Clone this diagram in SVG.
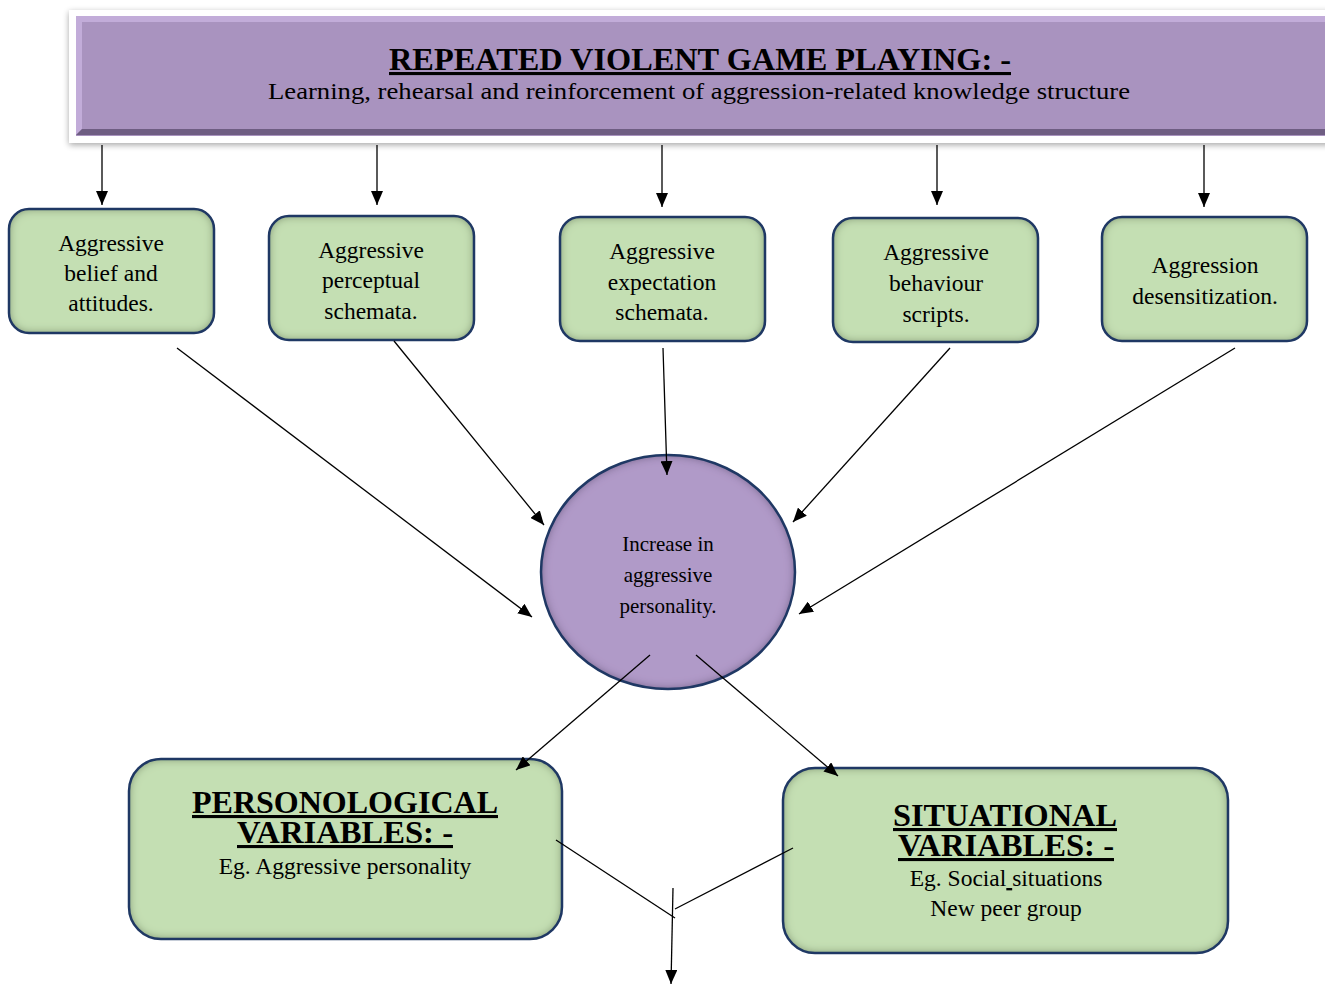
<svg xmlns="http://www.w3.org/2000/svg" width="1325" height="985" viewBox="0 0 1325 985">
<style>
.t{font-family:"Liberation Serif","Times New Roman",serif;fill:#000;text-anchor:middle}
.n{font-size:23.5px}
.c{font-size:21px}
.h{font-size:31px;font-weight:bold;text-decoration:underline}
.gs{fill:#c4dfb3}
.bd{fill:none;stroke:#1f3864;stroke-width:2.5}
.ln{stroke:#000;stroke-width:1.3;fill:none}
</style>
<defs>
<marker id="ah" markerWidth="14" markerHeight="12" refX="14" refY="6" orient="auto" markerUnits="userSpaceOnUse">
<path d="M0,0 L14,6 L0,12 z" fill="#000"/>
</marker>
<filter id="inner" x="-5%" y="-5%" width="110%" height="110%">
<feFlood flood-color="#4e5e3a" flood-opacity="0.9"/>
<feComposite in2="SourceAlpha" operator="out"/>
<feGaussianBlur stdDeviation="5"/>
<feComposite in2="SourceAlpha" operator="in" result="sh"/>
<feMerge><feMergeNode in="SourceGraphic"/><feMergeNode in="sh"/></feMerge>
</filter>
<filter id="innerP" x="-5%" y="-5%" width="110%" height="110%">
<feFlood flood-color="#4a3a5e" flood-opacity="0.9"/>
<feComposite in2="SourceAlpha" operator="out"/>
<feGaussianBlur stdDeviation="5"/>
<feComposite in2="SourceAlpha" operator="in" result="sh"/>
<feMerge><feMergeNode in="SourceGraphic"/><feMergeNode in="sh"/></feMerge>
</filter>
<filter id="drop" x="-5%" y="-20%" width="110%" height="140%">
<feGaussianBlur in="SourceAlpha" stdDeviation="3"/>
<feOffset dx="0" dy="2"/>
<feComponentTransfer><feFuncA type="linear" slope="0.35"/></feComponentTransfer>
<feMerge><feMergeNode/><feMergeNode in="SourceGraphic"/></feMerge>
</filter>
</defs>

<g id="top">
<rect x="69" y="10" width="1270" height="133" fill="#fff" filter="url(#drop)"/>
<rect x="76" y="16" width="1260" height="120" fill="#a993bf"/>
<polygon points="76,16 1336,16 1336,22 82,22 82,129 76,135" fill="#c2acd9"/>
<polygon points="76,135 82,129 1336,129 1336,135" fill="#6e5d82"/>
<text class="t h" x="700" y="70" textLength="622" lengthAdjust="spacingAndGlyphs">REPEATED VIOLENT GAME PLAYING: -</text>
<text class="t" x="699" y="99" font-size="23" textLength="862" lengthAdjust="spacingAndGlyphs">Learning, rehearsal and reinforcement of aggression-related knowledge structure</text>
</g>

<g id="n1">
<rect class="gs" x="9" y="209" width="205" height="124" rx="20" filter="url(#inner)"/>
<rect class="bd" x="9" y="209" width="205" height="124" rx="20"/>
<text class="t n" x="111" y="251">Aggressive</text>
<text class="t n" x="111" y="281">belief and</text>
<text class="t n" x="111" y="311">attitudes.</text>
</g>
<g id="n2">
<rect class="gs" x="269" y="216" width="205" height="124" rx="20" filter="url(#inner)"/>
<rect class="bd" x="269" y="216" width="205" height="124" rx="20"/>
<text class="t n" x="371" y="258">Aggressive</text>
<text class="t n" x="371" y="288">perceptual</text>
<text class="t n" x="371" y="319">schemata.</text>
</g>
<g id="n3">
<rect class="gs" x="560" y="217" width="205" height="124" rx="20" filter="url(#inner)"/>
<rect class="bd" x="560" y="217" width="205" height="124" rx="20"/>
<text class="t n" x="662" y="259">Aggressive</text>
<text class="t n" x="662" y="290">expectation</text>
<text class="t n" x="662" y="320">schemata.</text>
</g>
<g id="n4">
<rect class="gs" x="833" y="218" width="205" height="124" rx="20" filter="url(#inner)"/>
<rect class="bd" x="833" y="218" width="205" height="124" rx="20"/>
<text class="t n" x="936" y="260">Aggressive</text>
<text class="t n" x="936" y="291">behaviour</text>
<text class="t n" x="936" y="322">scripts.</text>
</g>
<g id="n5">
<rect class="gs" x="1102" y="217" width="205" height="124" rx="20" filter="url(#inner)"/>
<rect class="bd" x="1102" y="217" width="205" height="124" rx="20"/>
<text class="t n" x="1205" y="273">Aggression</text>
<text class="t n" x="1205" y="304">desensitization.</text>
</g>

<g id="center">
<ellipse cx="668" cy="572" rx="127" ry="117" fill="#b09ac8" filter="url(#innerP)"/>
<ellipse cx="668" cy="572" rx="127" ry="117" fill="none" stroke="#1f3864" stroke-width="2.5"/>
<text class="t c" x="668" y="551">Increase in</text>
<text class="t c" x="668" y="582">aggressive</text>
<text class="t c" x="668" y="613">personality.</text>
</g>

<g id="pers">
<rect class="gs" x="129" y="759" width="433" height="180" rx="32" filter="url(#inner)"/>
<rect class="bd" x="129" y="759" width="433" height="180" rx="32"/>
<text class="t h" x="345" y="813" textLength="306" lengthAdjust="spacingAndGlyphs">PERSONOLOGICAL</text>
<text class="t h" x="345" y="843" textLength="216" lengthAdjust="spacingAndGlyphs">VARIABLES: -</text>
<text class="t n" x="345" y="874">Eg. Aggressive personality</text>
</g>

<g id="sit">
<rect class="gs" x="783" y="768" width="445" height="185" rx="32" filter="url(#inner)"/>
<rect class="bd" x="783" y="768" width="445" height="185" rx="32"/>
<text class="t h" x="1005" y="826" textLength="224" lengthAdjust="spacingAndGlyphs">SITUATIONAL</text>
<text class="t h" x="1006" y="856" textLength="216" lengthAdjust="spacingAndGlyphs">VARIABLES: -</text>
<text class="t n" x="1006" y="886">Eg. Social<tspan text-decoration="underline"> </tspan>situations</text>
<text class="t n" x="1006" y="916">New peer group</text>
</g>

<g id="connectors">
<line class="ln" x1="102" y1="145" x2="102" y2="205" marker-end="url(#ah)"/>
<line class="ln" x1="377" y1="145" x2="377" y2="205" marker-end="url(#ah)"/>
<line class="ln" x1="662" y1="145" x2="662" y2="207" marker-end="url(#ah)"/>
<line class="ln" x1="937" y1="145" x2="937" y2="205" marker-end="url(#ah)"/>
<line class="ln" x1="1204" y1="145" x2="1204" y2="207" marker-end="url(#ah)"/>
<line class="ln" x1="177" y1="348" x2="532" y2="617" marker-end="url(#ah)"/>
<line class="ln" x1="394" y1="341" x2="544" y2="525" marker-end="url(#ah)"/>
<line class="ln" x1="663" y1="348" x2="667" y2="475" marker-end="url(#ah)"/>
<line class="ln" x1="950" y1="348" x2="793" y2="522" marker-end="url(#ah)"/>
<line class="ln" x1="1235" y1="348" x2="799" y2="614" marker-end="url(#ah)"/>
<line class="ln" x1="650" y1="655" x2="516" y2="770" marker-end="url(#ah)"/>
<line class="ln" x1="696" y1="655" x2="838" y2="776" marker-end="url(#ah)"/>
<line class="ln" x1="556" y1="840" x2="675" y2="918"/>
<line class="ln" x1="793" y1="848" x2="675" y2="909"/>
<line class="ln" x1="673" y1="888" x2="671" y2="984" marker-end="url(#ah)"/>
</g>
</svg>
